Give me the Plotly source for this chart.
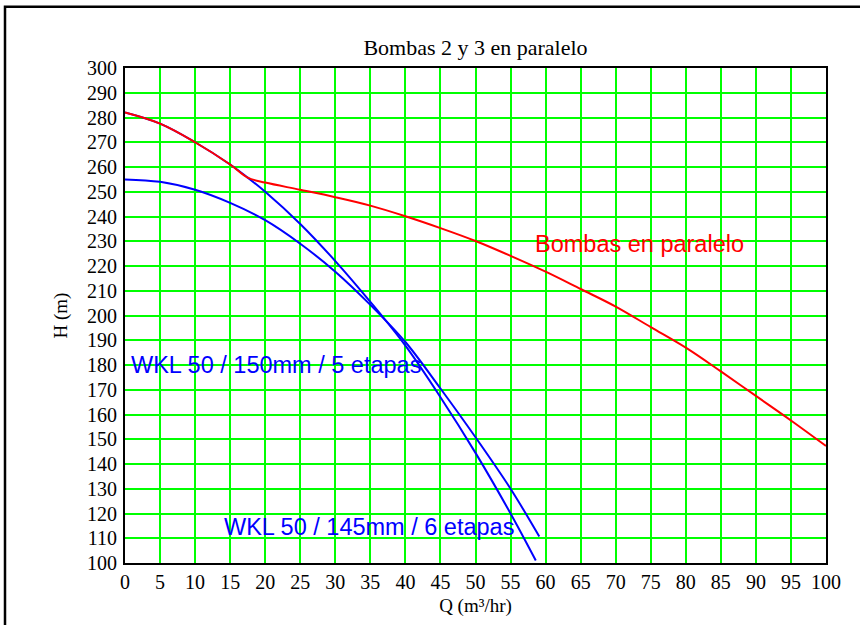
import plotly.graph_objects as go

# Pump 1 (higher shut-off head)
q_p1 = [0, 5, 10, 15, 17.5, 20, 25, 30, 35, 40, 45, 50, 55, 58.6]
h_p1 = [282, 277.5, 270, 261, 255.7, 250, 237, 222, 205.5, 187.8, 167, 144.5, 120, 101]

# Pump 2 (lower shut-off head)
q_p2 = [0, 5, 10, 15, 20, 25, 30, 35, 40, 45, 50, 55, 59.1]
h_p2 = [255, 254, 250.8, 245.5, 238.5, 229, 217.7, 204.3, 189.3, 170.5, 150.8, 130, 110.7]

# Combined (parallel) curve
q_par = [0, 5, 10, 15, 17.5, 20, 25, 30, 35, 40, 45, 50, 55, 60, 65, 70, 75, 80, 85, 90, 95, 100]
h_par = [282, 277.5, 270, 261, 255.7, 253.7, 250.8, 247.8, 244.4, 240.1, 235.3, 230.1, 224.1,
         217.7, 210.7, 203.6, 195.3, 187, 177.4, 167.5, 157.6, 147.3]

title_text = "Bombas 2 y 3 en paralelo"
x_title = "Q (m³/hr)"
y_title = "H (m)"
labels = [
    ("WKL 50 / 150mm / 5 etapas", 0.6, 180, "rgb(0,0,255)", 23.5),
    ("WKL 50 / 145mm / 6 etapas", 13.9, 114.7, "rgb(0,0,255)", 23.5),
    ("Bombas en paralelo", 58.2, 228.8, "rgb(255,0,0)", 23.5),
]

fig = go.Figure()
fig.add_trace(go.Scatter(x=q_p1, y=h_p1, mode="lines", line=dict(color="rgb(0,0,255)", width=2, shape="spline"),
                         showlegend=False, hoverinfo="skip"))
fig.add_trace(go.Scatter(x=q_p2, y=h_p2, mode="lines", line=dict(color="rgb(0,0,255)", width=2, shape="spline"),
                         showlegend=False, hoverinfo="skip"))
fig.add_trace(go.Scatter(x=q_par, y=h_par, mode="lines", line=dict(color="rgb(255,0,0)", width=2, shape="spline"),
                         showlegend=False, hoverinfo="skip"))

for txt, qx, hy, col, fs in labels:
    fig.add_annotation(x=qx, y=hy, xref="x", yref="y", text=txt, showarrow=False,
                       xanchor="left", yanchor="middle",
                       font=dict(family="Liberation Sans, Arial", size=fs, color=col))

serif = "Liberation Serif, Times New Roman, serif"
fig.update_layout(
    width=860, height=625,
    margin=dict(l=125, r=34, t=68, b=60),
    paper_bgcolor="white", plot_bgcolor="white",
    title=dict(text=title_text, x=0.5, xref="paper", xanchor="center", y=1 - 47 / 625, yanchor="middle",
               font=dict(family=serif, size=22, color="black")),
    font=dict(family=serif, color="black"),
    xaxis=dict(range=[0, 100], dtick=5, tick0=0, showgrid=True, gridcolor="rgb(0,255,0)", gridwidth=1.5,
               zeroline=False, showline=True, linecolor="black", linewidth=2, mirror=True,
               ticks="", tickfont=dict(family=serif, size=20, color="black"),
               title=dict(text=x_title, font=dict(family=serif, size=19, color="black"), standoff=7)),
    yaxis=dict(range=[100, 300], dtick=10, tick0=100, showgrid=True, gridcolor="rgb(0,255,0)", gridwidth=1.5,
               zeroline=False, showline=True, linecolor="black", linewidth=2, mirror=True,
               ticks="", ticklabelstandoff=2, tickfont=dict(family=serif, size=20, color="black"),
               title=dict(text=y_title, font=dict(family=serif, size=19, color="black"), standoff=14)),
)

# outer frame around the whole chart (extends past the picture's right/bottom edges)
fig.add_shape(type="rect", xref="paper", yref="paper",
              x0=(5 - 125) / 701, x1=2.0, y0=-1.0, y1=(565 - 6) / 497.5,
              line=dict(color="black", width=2.5), fillcolor="rgba(0,0,0,0)", layer="above")

fig.write_html("out.html", config={"displayModeBar": False},
               post_script="document.body.style.margin='0px';")
